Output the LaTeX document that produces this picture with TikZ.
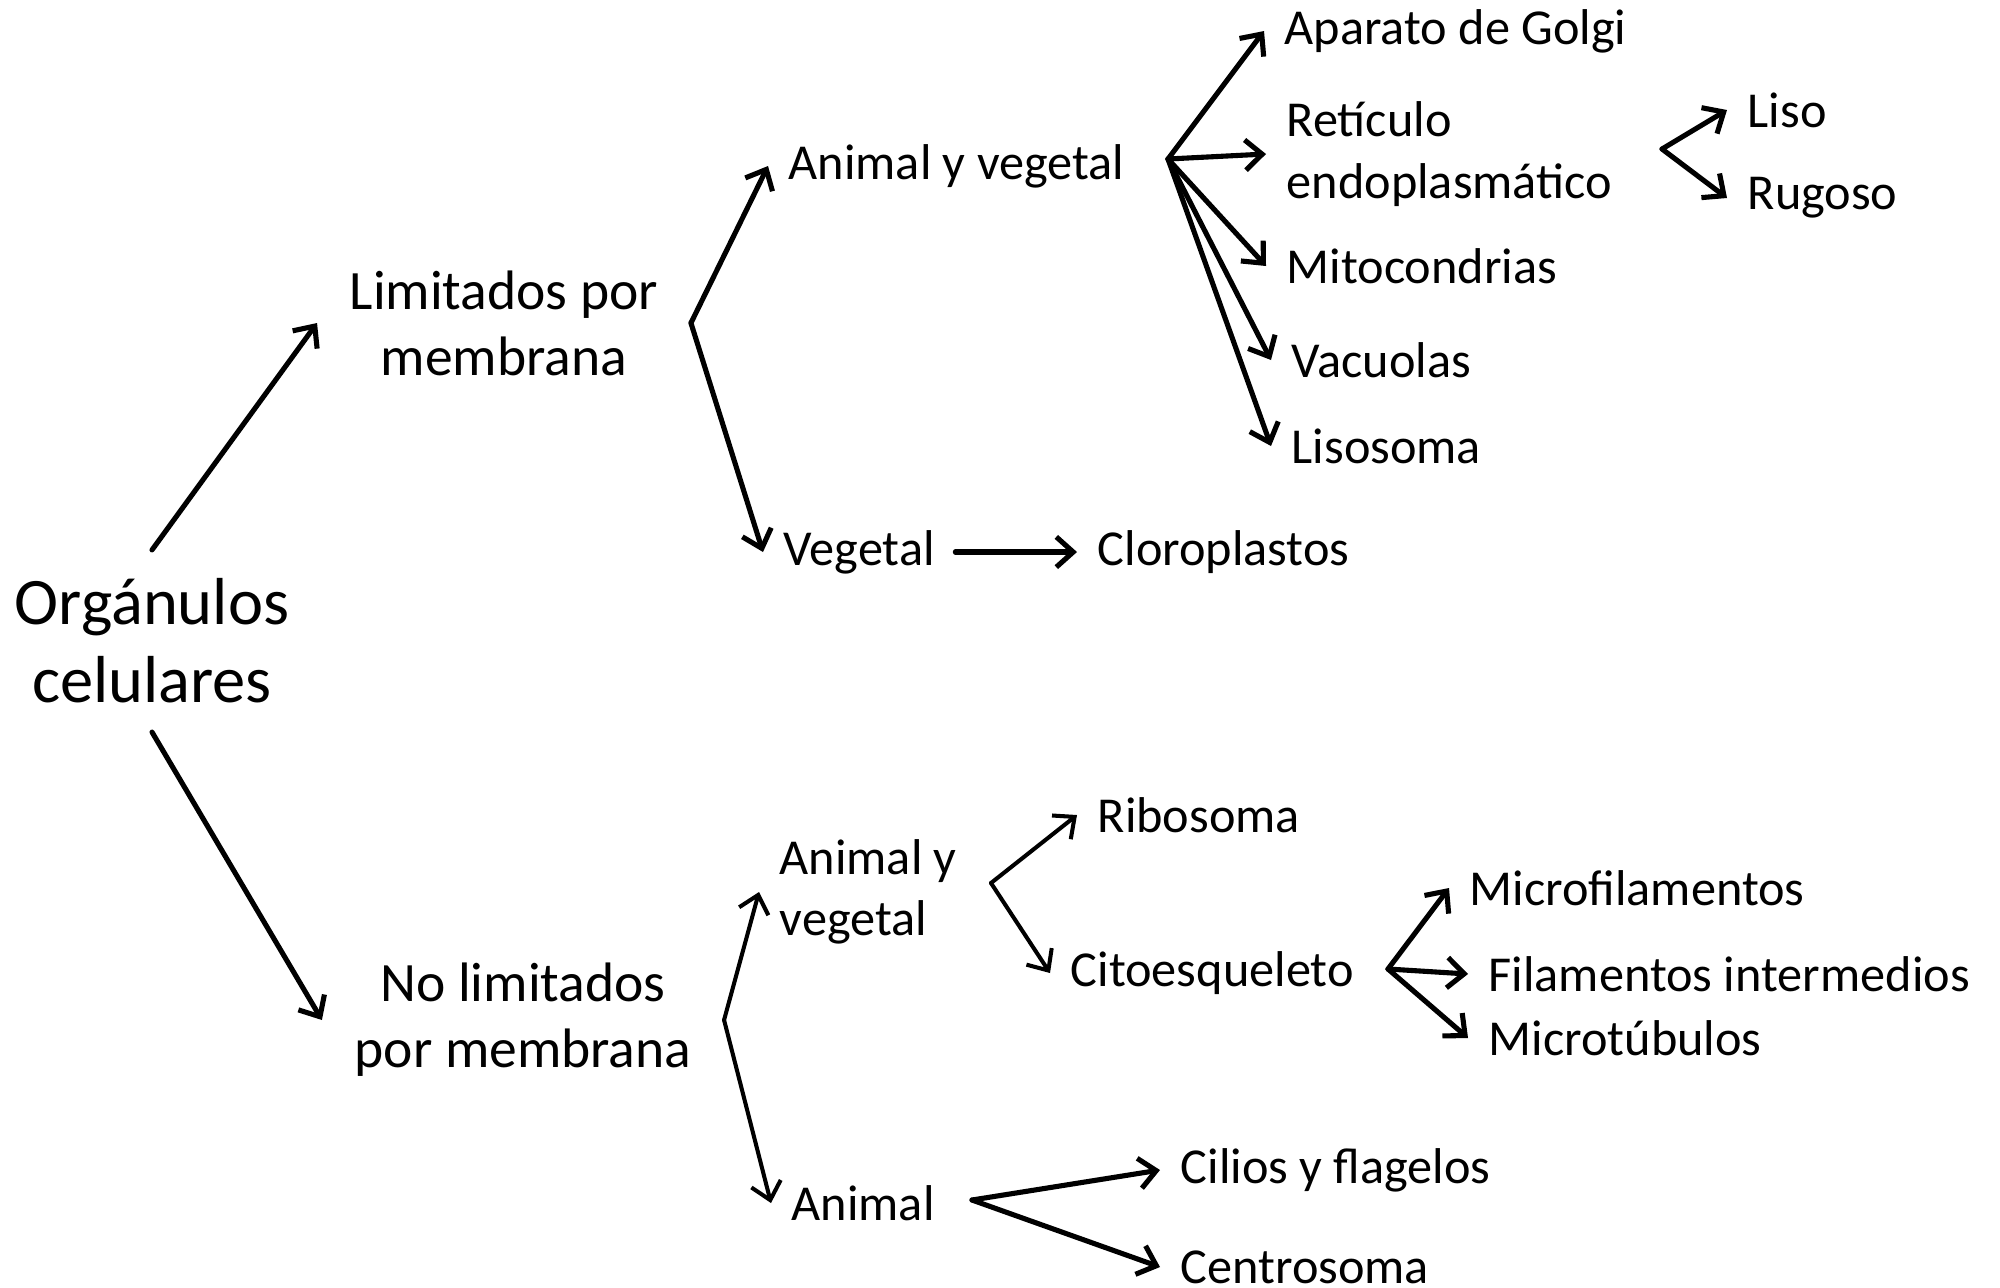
\documentclass[tikz,border=0pt]{standalone}
\usepackage{fontspec}
\setmainfont{Carlito}
\usetikzlibrary{arrows.meta}
\begin{document}
\begin{tikzpicture}[x=0.01cm,y=-0.01cm]
		\tikzstyle{root}=[align=center,inner xsep=0.2cm,inner ysep=0.28cm,font=\fontsize{18.9}{22.2}\selectfont]
		\tikzstyle{mid}=[align=center,inner xsep=0.32cm,inner ysep=0.1cm,font=\fontsize{15.8}{18.8}\selectfont]
		\tikzstyle{leaf}=[anchor=west,align=left,inner xsep=0.2cm,inner ysep=0.1cm,font=\fontsize{14.3}{17.4}\selectfont]
		\tikzstyle{arr}=[-{Straight Barb[length=4.8pt,width=8.6pt]},line width=1.45pt,line cap=round]
		\tikzstyle{arrthin}=[arr,line width=1.15pt]
		\useasboundingbox (0,0) rectangle (2000,1287);
		% first levels
		\node[root] (org) at (152,641) {Orgánulos\\celulares};
		\node[mid] (lim) at (504,323) {Limitados por\\membrana};
		\node[mid] (nolim) at (523,1020) {No limitados\\por membrana};
		% with membrane
		\node[leaf] (av_1) at (768,166) {Animal y vegetal};
		\node[leaf] (veg) at (763,552) {Vegetal};
		\node[leaf] (clo) at (1077,552) {Cloroplastos};
		\node[leaf] (golgi) at (1264,31) {Aparato de Golgi};
		\node[leaf] (ret) at (1266,154) {Retículo\\endoplasmático};
		\node[leaf] (mito) at (1266,266) {Mitocondrias};
		\node[leaf] (vac) at (1271,360) {Vacuolas};
		\node[leaf] (lis) at (1271,446) {Lisosoma};
		\node[leaf] (liso) at (1727,110) {Liso};
		\node[leaf] (rug) at (1727,198) {Rugoso};
		% without membrane
		\node[leaf] (av_2) at (759,892) {Animal y\\vegetal};
		\node[leaf] (ani) at (771,1203) {Animal};
		\node[leaf] (ribo) at (1077,815) {Ribosoma};
		\node[leaf] (cito) at (1050,973) {Citoesqueleto};
		\node[leaf] (mfil) at (1449,888) {Microfilamentos};
		\node[leaf] (fil) at (1468,974) {Filamentos intermedios};
		\node[leaf] (mtub) at (1468,1038) {Microtúbulos};
		\node[leaf] (cil) at (1160,1170) {Cilios y flagelos};
		\node[leaf] (cen) at (1160,1267) {Centrosoma};
		% branch points
		\coordinate (c_av1) at (1168,159);
		\coordinate (c_ret) at (1662,149);
		\coordinate (c_av2) at (991,883);
		\coordinate (c_cito) at (1388,969);
		\coordinate (c_ani) at (972,1200);
		\draw[arr] (org.north) -- (lim.west);
		\draw[arr] (org.south) -- (nolim.west);
		\draw[arr] (lim.east) -- (av_1.west);
		\draw[arr] (lim.east) -- (veg.west);
		\draw[arr] (veg.east) -- (clo.west);
		\draw[arr] (c_av1) -- (golgi.west);
		\draw[arr] (c_av1) -- (ret.west);
		\draw[arr] (c_av1) -- (mito.west);
		\draw[arr] (c_av1) -- (vac.west);
		\draw[arr] (c_av1) -- (lis.west);
		\draw[arr] (c_ret) -- (liso.west);
		\draw[arr] (c_ret) -- (rug.west);
		\draw[arrthin] (nolim.east) -- (av_2.west);
		\draw[arrthin] (nolim.east) -- (ani.west);
		\draw[arrthin] (c_av2) -- (ribo.west);
		\draw[arrthin] (c_av2) -- (cito.west);
		\draw[arr] (c_cito) -- (mfil.west);
		\draw[arr] (c_cito) -- (fil.west);
		\draw[arr] (c_cito) -- (mtub.west);
		\draw[arr] (c_ani) -- (cil.west);
		\draw[arr] (c_ani) -- (cen.west);
	\end{tikzpicture}
\end{document}
